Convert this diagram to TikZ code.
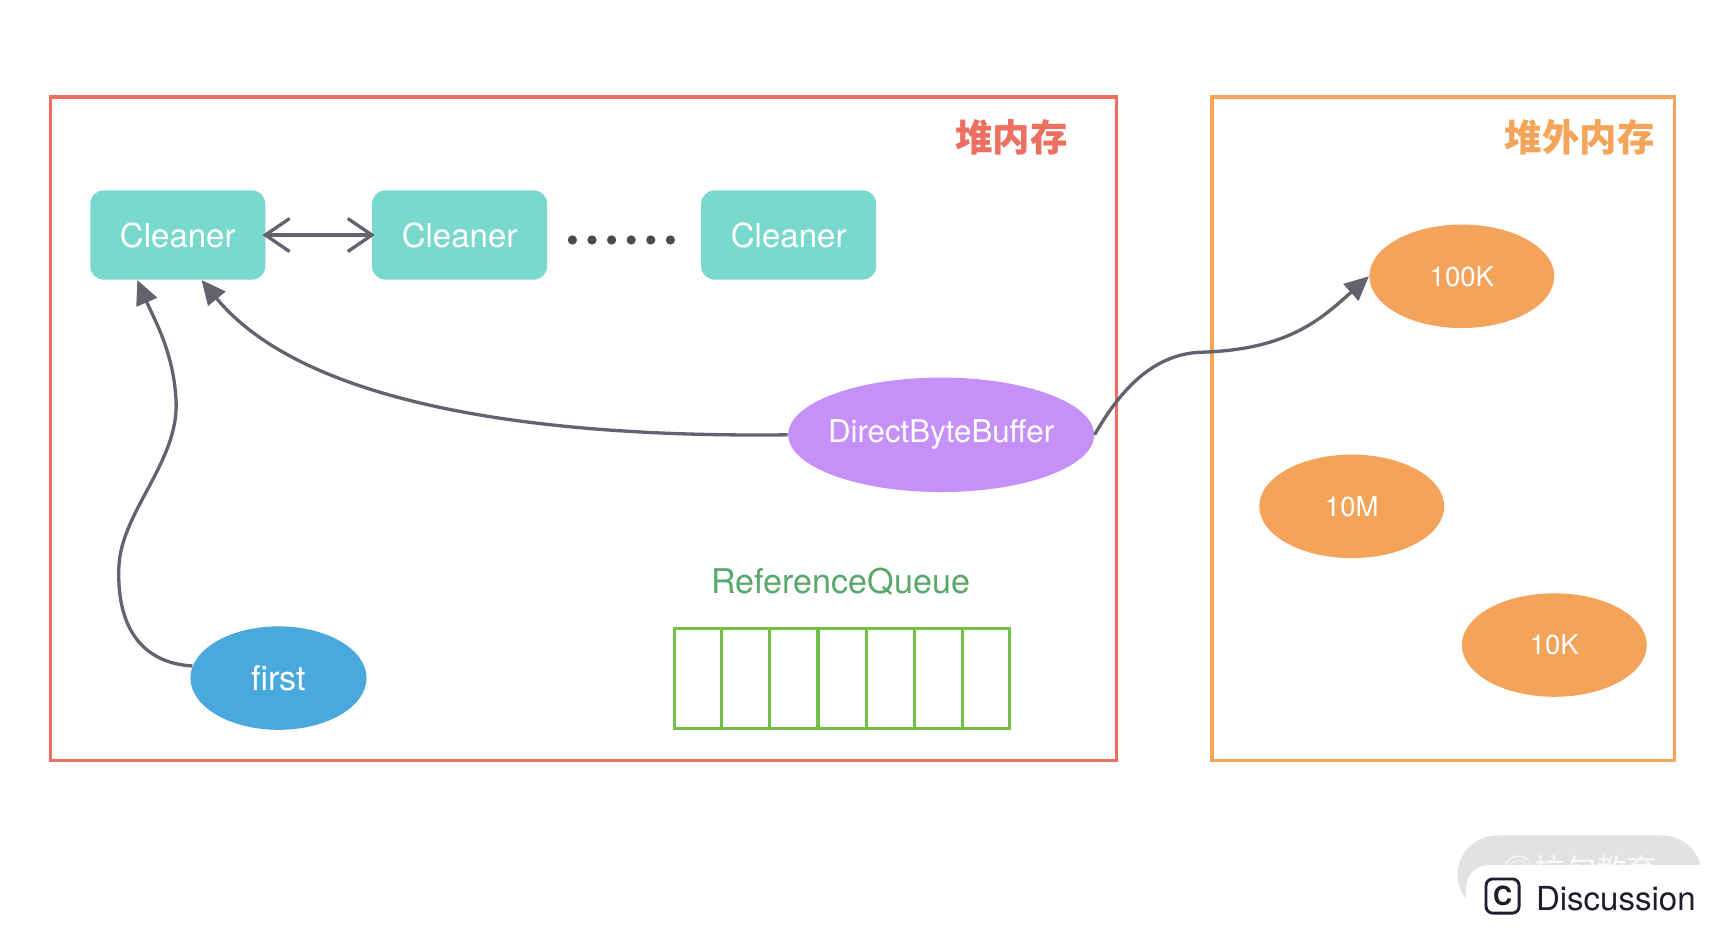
\documentclass[tikz,border=0pt]{standalone}
\usepackage{fontspec}
\setmainfont{TeX Gyre Heros}
\newfontfamily\cjk{Noto Sans CJK SC}
\usetikzlibrary{shapes.geometric,arrows.meta,calc}
\definecolor{heapred}{HTML}{EC6F60}
\definecolor{offorange}{HTML}{F5A55A}
\definecolor{blobor}{HTML}{F4A35A}
\definecolor{cleanerteal}{HTML}{79D9CD}
\definecolor{dbbpurple}{HTML}{C590F8}
\definecolor{firstblue}{HTML}{49A8DC}
\definecolor{rqgreen}{HTML}{5AA86B}
\definecolor{qgreen}{HTML}{72C045}
\definecolor{arrowgray}{HTML}{63636F}
\definecolor{dotgray}{HTML}{4A4A55}
\definecolor{navy}{HTML}{1D1D2B}
\definecolor{wmgray}{HTML}{E2E2E2}
\begin{document}
\begin{tikzpicture}[x=0.5pt,y=-0.5pt,
  region/.style={draw, line width=1.5pt, inner sep=0, minimum height=301.5pt},
  cleaner/.style={rectangle, rounded corners=6pt, fill=cleanerteal, minimum width=79.5pt, minimum height=40.5pt, inner sep=0, text=white, font=\fontsize{15}{18}\selectfont},
  blob/.style={ellipse, inner sep=0, text=white},
  memblob/.style={blob, fill=blobor, minimum width=84pt, minimum height=47pt, font=\fontsize{12.5}{15}\selectfont},
  conn/.style={draw=arrowgray, line width=1.5pt, -{Triangle[length=11pt,width=10pt]}},
  title/.style={font=\cjk\bfseries\fontsize{17}{20}\selectfont},
]
\useasboundingbox[fill=white] (0,0) rectangle (1568,846.7);

% regions
\node[region, draw=heapred, minimum width=484pt] (heap) at (530,389.5) {};
\node[region, draw=offorange, minimum width=210pt] (offheap) at (1311,389.5) {};
\node[title, text=heapred] (t1) at (919,125) {堆内存};
\node[title, text=offorange] (t2) at (1435,125) {堆外内存};

% cleaners
\node[cleaner] (c1) at (161.5,213.5) {Cleaner};
\node[cleaner] (c2) at (417.5,213.5) {Cleaner};
\node[cleaner] (c3) at (716.5,213.5) {Cleaner};
\foreach \i in {0,...,5} \fill[dotgray] (520+\i*17.8,218) circle (2.1pt);
\draw[draw=arrowgray, line width=1.5pt, {Straight Barb[length=11pt,width=15pt]}-{Straight Barb[length=11pt,width=15pt]}, shorten <=-1.5pt, shorten >=-1.5pt] (c1.east) -- (c2.west);

% ellipses
\node[blob, fill=dbbpurple, minimum width=139pt, minimum height=52pt, font=\fontsize{14.2}{17}\selectfont] (dbb) at (855,395) {\makebox[0pt]{DirectByteBuffer}};
\node[blob, fill=firstblue, minimum width=80pt, minimum height=47pt, font=\fontsize{15.5}{18}\selectfont] (first) at (253,616) {first};
\node[memblob] (k100) at (1328,251) {100K};
\node[memblob] (m10) at (1228,460) {10M};
\node[memblob] (k10) at (1412,586) {10K};

% reference queue
\node[text=rqgreen, font=\fontsize{15.5}{18}\selectfont] (rq) at (764,528) {ReferenceQueue};
\node[draw=qgreen, line width=1.5pt, inner sep=0, minimum width=152pt, minimum height=45.5pt] (queue) at (765,616.5) {};
\foreach \i in {1,...,6}
  \draw[qgreen, line width=1.5pt] ($(queue.north west)!\i/7!(queue.north east)$) -- ($(queue.south west)!\i/7!(queue.south east)$);

% connectors
\coordinate (c1a) at ($(c1.south west)!0.27!(c1.south east)$);
\coordinate (c1b) at ($(c1.south west)!0.635!(c1.south east)$);
\draw[conn] (first.172) .. controls (125,602) and (106,565) .. (108,515)
  .. controls (110,465) and (162,420) .. (160,365)
  .. controls (158,320) and (140,290) .. (c1a);
\draw[conn] (dbb.west) .. controls (460,398) and (270,360) .. (c1b);
\draw[conn] (dbb.east) .. controls (1020,350) and (1050,322) .. (1090,320)
  .. controls (1170,318) and (1200,290) .. (k100.west);

% watermark
\fill[wmgray, rounded corners=18pt] (1324,759) rectangle (1546,830);
\begin{scope}
\clip (1320,755) rectangle (1568,787);
\node[text=white, opacity=0.8, font=\cjk\fontsize{14}{16}\selectfont] (wmtext) at (1436,790) {◎拉勾教育};
\end{scope}
\fill[white, rounded corners=10pt] (1332,786) rectangle (1600,900);
\node[draw=navy, line width=1.3pt, rounded corners=3pt, minimum width=15pt, minimum height=15.5pt, inner sep=0, text=navy, font=\bfseries\fontsize{12}{14}\selectfont] (cicon) at (1365,814) {C};
\node[text=navy, anchor=west, font=\fontsize{15}{18}\selectfont, inner sep=0] (disc) at (1395,816) {Discussion};
\end{tikzpicture}
\end{document}
